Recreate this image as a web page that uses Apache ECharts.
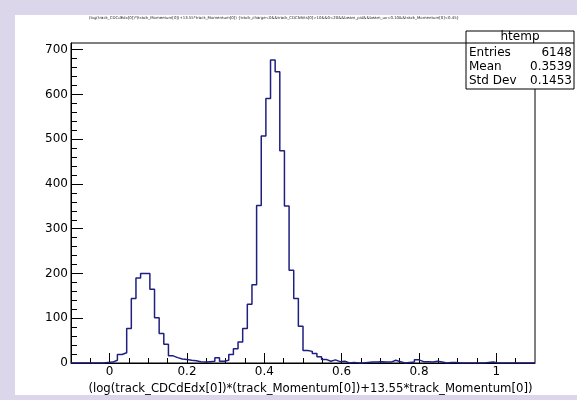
<!DOCTYPE html>
<html>
<head>
<meta charset="utf-8">
<script src="https://cdn.jsdelivr.net/npm/echarts@6/dist/echarts.min.js"></script>
<style>
html,body{margin:0;padding:0;}
#wrap{position:relative;width:577px;height:400px;background:#dcd6eb;overflow:hidden;}
#chart{position:absolute;left:15px;top:15px;width:562px;height:380px;background:#ffffff;}
</style>
</head>
<body>
<div id="wrap"><div id="chart"></div></div>
<script>
// Histogram binning
var xMin = -0.1;
var xMax = 1.1;
var nBins = 100;
// Bin contents
var binCounts = [
  0,0,0,0,0,0,0,1,2,6,
  19,23,77,144,190,200,200,165,101,66,
  42,16,12,9,8,6,5,3,2,3,
  4,12,4,6,19,32,47,77,131,175,
  352,507,591,677,651,474,351,207,144,82,
  28,26,21,14,8,4,7,3,4,0,
  1,0,0,1,2,2,3,2,2,6,
  3,0,1,2,7,3,3,2,4,2,
  0,1,1,0,0,0,0,0,0,1,
  2,0,0,0,0,0,0,0,0,0
];
var yMax = 715;
var xMajorTicks = [0, 0.2, 0.4, 0.6, 0.8, 1];
var xMinorTicks = [-0.05, 0.05, 0.1, 0.15, 0.25, 0.3, 0.35, 0.45, 0.5, 0.55, 0.65, 0.7, 0.75, 0.85, 0.9, 0.95, 1.05];
var yMajorTicks = [0, 100, 200, 300, 400, 500, 600, 700];
var yMinorTicks = [20,40,60,80,120,140,160,180,220,240,260,280,320,340,360,380,420,440,460,480,520,540,560,580,620,640,660,680];
var titleText = '(log(track_CDCdEdx[0])*(track_Momentum[0])+13.55*track_Momentum[0]) {track_charge<0&&track_CDCNhits[0]>10&&0<20&&beam_pid&&beam_uv<0.10&&track_Momentum[0]<0.45}';
var xTitle = '(log(track_CDCdEdx[0])*(track_Momentum[0])+13.55*track_Momentum[0])';
var statsName = 'htemp';
var statsLabels = ['Entries', 'Mean', 'Std Dev'];
var statsValues = ['6148', '0.3539', '0.1453'];

var binW = (xMax - xMin) / nBins;
var stepData = binCounts.map(function (v, i) { return [xMin + i * binW, v]; });
stepData.push([xMax, binCounts[binCounts.length - 1]]);

var FONT = 'DejaVu Sans';
var TICK = '#000000';
var chart = echarts.init(document.getElementById('chart'), null, {renderer: 'canvas'});

var boxL = 451, boxT = 16, boxW = 108, boxH = 58;
var rowY = [38, 52, 66];
var graphics = [
  {type: 'text', z: 100, style: {text: titleText, x: 259, y: 3, align: 'center', verticalAlign: 'middle', font: '3.9px "' + FONT + '"', fill: '#222'}},
  {type: 'rect', z: 100, shape: {x: boxL, y: boxT, width: boxW, height: boxH}, style: {fill: '#fff', stroke: '#000', lineWidth: 1}},
  {type: 'line', z: 101, shape: {x1: boxL, y1: 28, x2: boxL + boxW, y2: 28}, style: {stroke: '#000', lineWidth: 1}},
  {type: 'text', z: 101, style: {text: statsName, x: boxL + boxW / 2, y: 22, align: 'center', verticalAlign: 'middle', font: '12px "' + FONT + '"', fill: '#000'}}
];
statsLabels.forEach(function (lab, i) {
  graphics.push({type: 'text', z: 101, style: {text: lab, x: boxL + 3, y: rowY[i], align: 'left', verticalAlign: 'middle', font: '12px "' + FONT + '"', fill: '#000'}});
  graphics.push({type: 'text', z: 101, style: {text: statsValues[i], x: boxL + boxW - 2, y: rowY[i], align: 'right', verticalAlign: 'middle', font: '12px "' + FONT + '"', fill: '#000'}});
});

var option = {
  animation: false,
  backgroundColor: '#ffffff',
  textStyle: {fontFamily: FONT},
  grid: {left: 56, top: 28, right: 42, bottom: 32, show: true, borderColor: '#000', borderWidth: 1, backgroundColor: 'transparent', containLabel: false, outerBoundsMode: 'none'},
  graphic: graphics,
  xAxis: [
    {
      type: 'value', min: xMin, max: xMax, position: 'bottom',
      name: xTitle, nameLocation: 'middle', nameGap: 14,
      nameTextStyle: {fontFamily: FONT, fontSize: 11.7, color: '#000', verticalAlign: 'top', padding: [0, 0, 0, 15]},
      axisLine: {show: true, onZero: false, lineStyle: {color: '#000', width: 1}},
      splitLine: {show: false},
      axisTick: {show: true, inside: true, length: 10, customValues: xMajorTicks, lineStyle: {color: TICK, width: 1}},
      axisLabel: {show: true, customValues: xMajorTicks, margin: 3, fontFamily: FONT, fontSize: 12, color: '#000',
        formatter: function (v) { return String(Math.round(v * 10) / 10); }}
    },
    {
      type: 'value', min: xMin, max: xMax, position: 'bottom',
      axisLine: {show: false, onZero: false}, splitLine: {show: false}, axisLabel: {show: false},
      axisTick: {show: true, inside: true, length: 5, customValues: xMinorTicks, lineStyle: {color: TICK, width: 1}}
    }
  ],
  yAxis: [
    {
      type: 'value', min: 0, max: yMax, position: 'left',
      axisLine: {show: true, onZero: false, lineStyle: {color: '#000', width: 1}},
      splitLine: {show: false},
      axisTick: {show: true, inside: true, length: 12, customValues: yMajorTicks, lineStyle: {color: TICK, width: 1}},
      axisLabel: {show: true, customValues: yMajorTicks, margin: 3, fontFamily: FONT, fontSize: 12, color: '#000'}
    },
    {
      type: 'value', min: 0, max: yMax, position: 'left',
      axisLine: {show: false, onZero: false}, splitLine: {show: false}, axisLabel: {show: false},
      axisTick: {show: true, inside: true, length: 6, customValues: yMinorTicks, lineStyle: {color: TICK, width: 1}}
    }
  ],
  series: [
    {
      type: 'line', xAxisIndex: 0, yAxisIndex: 0, step: 'end', symbol: 'none',
      data: stepData, clip: true,
      lineStyle: {color: '#1f1f7f', width: 1.5}, z: 5
    }
  ]
};
chart.setOption(option);
</script>
</body>
</html>
